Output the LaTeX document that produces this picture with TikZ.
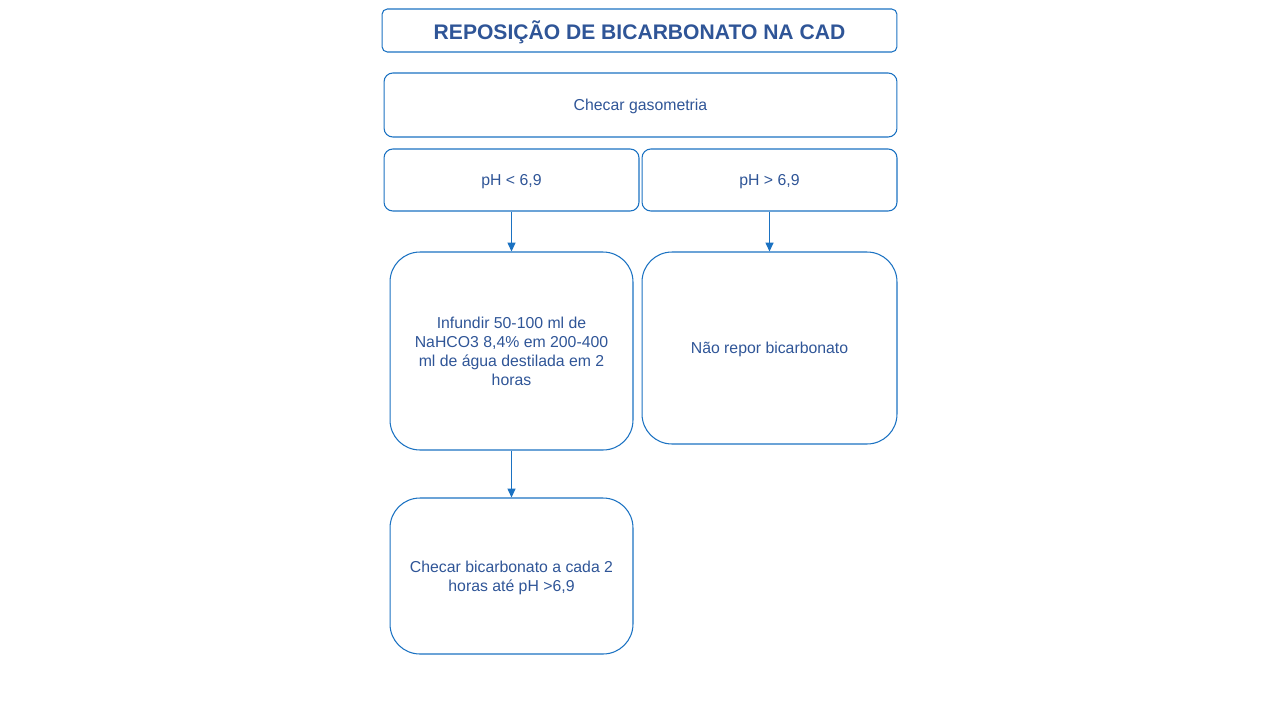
\documentclass[tikz,border=0pt]{standalone}
\usepackage{fontspec}
\setmainfont{Liberation Sans}
\usetikzlibrary{arrows.meta}

\definecolor{lineblue}{HTML}{1B72C2}
\definecolor{textblue}{HTML}{2F5597}

\tikzset{
  box/.style={draw=lineblue, line width=0.6pt, text=textblue, align=center,
    inner sep=0pt, text depth=0pt, font=\fontsize{9}{10.8}\selectfont},
  flow/.style={draw=lineblue, line width=0.7pt, -{Triangle[length=5pt,width=4.5pt]}}
}

\begin{document}
\begin{tikzpicture}[x=0.02cm, y=-0.02cm]
  \useasboundingbox (0,0) rectangle (1280,720);
  \node[box, rounded corners=3pt, minimum width=10.3cm, minimum height=0.86cm,
    font=\fontsize{12}{14}\selectfont\bfseries] (title) at (639.5,30.5) {REPOSIÇÃO DE BICARBONATO NA CAD};
  \node[box, rounded corners=5pt, minimum width=10.26cm, minimum height=1.28cm] (gaso) at (640.5,105) {Checar gasometria};
  \node[box, rounded corners=5pt, minimum width=5.1cm, minimum height=1.24cm] (low) at (511.5,180) {pH < 6,9};
  \node[box, rounded corners=5pt, minimum width=5.1cm, minimum height=1.24cm] (high) at (769.5,180) {pH > 6,9};
  \node[box, rounded corners=17pt, minimum width=4.86cm, minimum height=3.96cm] (infundir) at (511.5,351)
    {Infundir 50-100 ml de\\NaHCO3 8,4\% em 200-400\\ml de água destilada em 2\\horas};
  \node[box, rounded corners=17pt, minimum width=5.1cm, minimum height=3.84cm] (naorepor) at (769.5,348) {Não repor bicarbonato};
  \node[box, rounded corners=17pt, minimum width=4.86cm, minimum height=3.12cm] (checar) at (511.5,576)
    {Checar bicarbonato a cada 2\\horas até pH >6,9};
  % arrows
  \draw[flow] (low) -- (infundir);
  \draw[flow] (high) -- (naorepor);
  \draw[flow] (infundir) -- (checar);
\end{tikzpicture}
\end{document}
